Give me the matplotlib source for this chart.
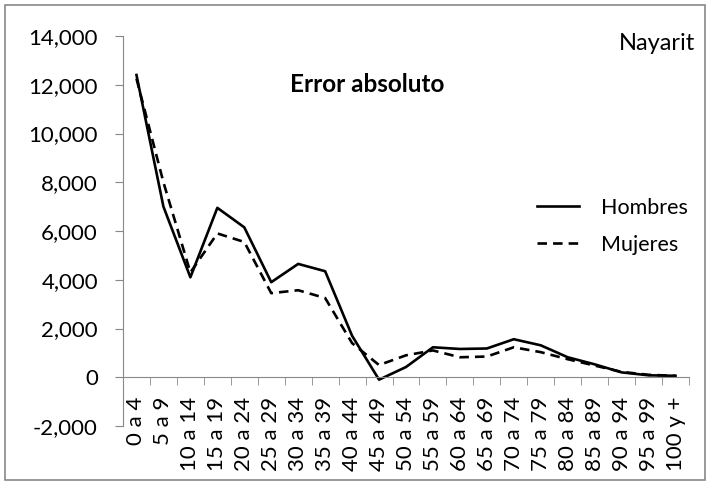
""" Error absoluto por grupo de edad, Nayarit. """

import numpy as np
import matplotlib.pyplot as plt
from matplotlib.patches import Rectangle
from matplotlib.ticker import FuncFormatter, FixedLocator

plt.rcParams['font.family'] = ['Lato', 'DejaVu Sans']

grupos = ['0 a 4', '5 a 9', '10 a 14', '15 a 19', '20 a 24', '25 a 29',
          '30 a 34', '35 a 39', '40 a 44', '45 a 49', '50 a 54', '55 a 59',
          '60 a 64', '65 a 69', '70 a 74', '75 a 79', '80 a 84', '85 a 89',
          '90 a 94', '95 a 99', '100 y +']
hombres = [12400, 7000, 4100, 6950, 6150, 3900, 4650, 4350, 1700, -100,
           420, 1230, 1160, 1180, 1560, 1310, 820, 530, 200, 80, 60]
mujeres = [12250, 8000, 4300, 5900, 5550, 3450, 3570, 3250, 1400, 500,
           900, 1100, 820, 850, 1230, 1030, 740, 480, 220, 100, 60]

W, H = 710, 484
fig = plt.figure(figsize=(W / 100, H / 100), dpi=100)
ax = fig.add_axes([123 / W, 1 - 426 / H, (689 - 123) / W, (426 - 36) / H])

x = np.arange(len(grupos))
ax.plot(x, hombres, color='black', lw=1.9, label='Hombres')
ax.plot(x, mujeres, color='black', lw=1.9, ls=(0, (3.6, 2.3)), label='Mujeres')

ax.set_xlim(-0.5, len(grupos) - 0.5)
ax.set_ylim(-2000, 14000)
ax.set_yticks(np.arange(-2000, 14001, 2000))
ax.yaxis.set_major_formatter(FuncFormatter(lambda v, p: '{:,.0f}'.format(v)))

grey = '#888888'
for s in ['top', 'right']:
    ax.spines[s].set_visible(False)
ax.spines['bottom'].set_position(('data', 0))
ax.spines['left'].set_color(grey)
ax.spines['bottom'].set_color(grey)

ax.set_xticks(x)
ax.set_xticklabels(grupos, rotation=90, va='top', ha='center')
ax.xaxis.set_minor_locator(FixedLocator(np.arange(-0.5, len(grupos), 1)))
ax.tick_params(axis='x', which='major', length=0, pad=14, labelsize=16)
ax.tick_params(axis='x', which='minor', length=6, color=grey, direction='out')
ax.tick_params(axis='y', length=6, color=grey, pad=12, labelsize=16)

ax.text(367 / W, 1 - 85 / H, 'Error absoluto', transform=fig.transFigure,
        ha='center', va='center', fontsize=17.5, fontweight='bold')
ax.text(695 / W, 1 - 43 / H, 'Nayarit', transform=fig.transFigure,
        ha='right', va='center', fontsize=17)

ax.legend(loc='upper left', bbox_to_anchor=(537 / W, 1 - 198 / H),
          bbox_transform=fig.transFigure, frameon=False, fontsize=15.5,
          handlelength=1.95, handletextpad=1.0, labelspacing=0.78,
          borderpad=0, borderaxespad=0)

fig.patches.append(Rectangle((5 / W, 4 / H), 700 / W, 1 - 9 / H,
                             transform=fig.transFigure, fill=False,
                             edgecolor=grey, lw=1.2))

fig.savefig('out.png', dpi=100)
